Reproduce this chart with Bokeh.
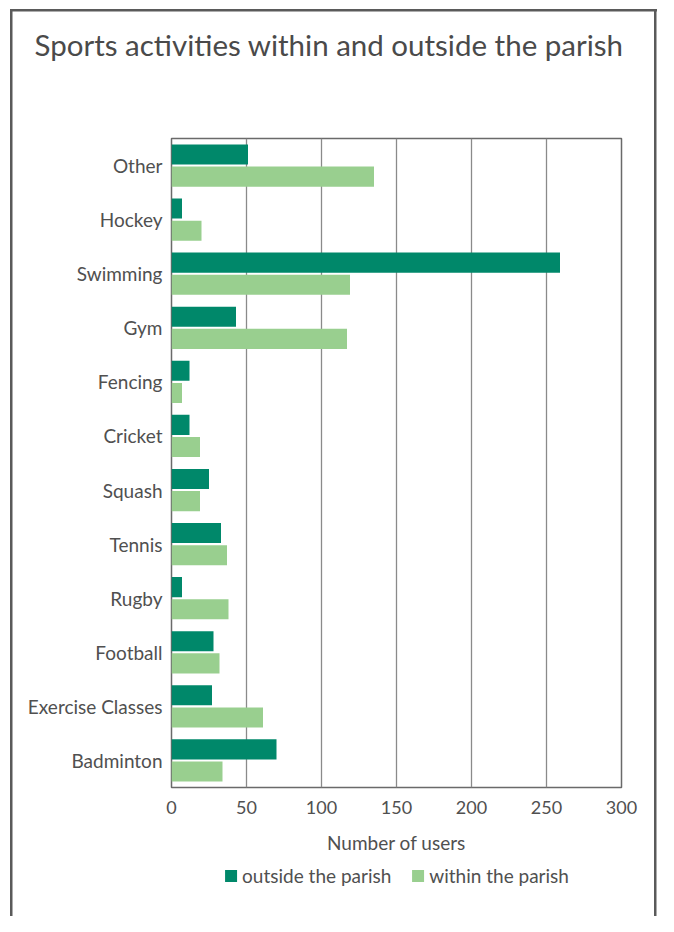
from bokeh.plotting import figure
from bokeh.layouts import column
from bokeh.models import (FactorRange, ColumnDataSource, Legend, LegendItem, Title,
                          FixedTicker, Range1d)
from bokeh.transform import dodge
from bokeh.embed import file_html
from bokeh.resources import INLINE

categories = ["Badminton", "Exercise Classes", "Football", "Rugby", "Tennis", "Squash",
              "Cricket", "Fencing", "Gym", "Swimming", "Hockey", "Other"]
outside_parish = [70, 27, 28, 7, 33, 25, 12, 12, 43, 259, 7, 51]
within_parish = [34, 61, 32, 38, 37, 19, 19, 7, 117, 119, 20, 135]
x_ticks = [0, 50, 100, 150, 200, 250, 300]
series_names = ["outside the parish", "within the parish"]

DARK = "#00886a"
LIGHT = "#99cf8f"
TEXT = "#505050"
FONT = "Lato"
BORDER = "#5a5a5a"

src = ColumnDataSource(dict(cat=categories, outside=outside_parish, within=within_parish))

p = figure(width=658, height=862, output_backend="svg", toolbar_location=None,
           y_range=FactorRange(factors=categories, range_padding=0),
           x_range=Range1d(0, 300),
           min_border_left=171, min_border_right=37, min_border_top=0, min_border_bottom=75)

r1 = p.hbar(y=dodge("cat", 0.205, range=p.y_range), right="outside", left=0, height=0.37,
            source=src, fill_color=DARK, line_color=None)
r2 = p.hbar(y=dodge("cat", -0.205, range=p.y_range), right="within", left=0, height=0.37,
            source=src, fill_color=LIGHT, line_color=None)

p.border_fill_color = None
p.outline_line_color = "#6a6a6a"
p.outline_line_width = 1.5
p.ygrid.grid_line_color = None
p.xgrid.grid_line_color = "#8a8a8a"
p.xgrid.grid_line_width = 1.3
p.xaxis.ticker = FixedTicker(ticks=x_ticks)

for ax in (p.xaxis[0], p.yaxis[0]):
    ax.axis_line_color = None
    ax.major_tick_line_color = None
    ax.minor_tick_line_color = None
    ax.major_tick_out = 0
    ax.minor_tick_out = 0
    ax.major_label_text_font = FONT
    ax.major_label_text_font_size = "19px"
    ax.major_label_text_color = TEXT
    ax.axis_label_text_font = FONT
    ax.axis_label_text_font_size = "19px"
    ax.axis_label_text_color = TEXT
    ax.axis_label_text_font_style = "normal"

p.xaxis.major_label_text_font_size = "18px"
p.yaxis.major_label_standoff = 9
p.xaxis.major_label_standoff = 13
p.xaxis.axis_label = "Number of users"
p.xaxis.axis_label_standoff = 14

# spacer between title and plot frame (inner part of the top panel)
spacer = Title(text=" ", text_font_size="1px", standoff=46)
p.add_layout(spacer, "above")

p.title.text = "Sports activities within and outside the parish"
p.title.text_font = FONT
p.title.text_font_size = "29.5px"
p.title.text_font_style = "normal"
p.title.text_color = "#4a4a4a"
p.title.align = "left"
p.title.offset = -137
p.title.vertical_align = "top"
p.title.standoff = 52

# legend strip below the chart; its bars use the same data but have zero height
p2 = figure(width=658, height=54, output_backend="svg", toolbar_location=None,
            x_axis_type=None, y_axis_type=None,
            y_range=FactorRange(factors=categories), x_range=Range1d(-20, -10),
            min_border_left=171, min_border_right=37, min_border_top=0, min_border_bottom=0)
p2.outline_line_color = None
p2.background_fill_color = None
p2.border_fill_color = None
l1 = p2.hbar(y="cat", right="outside", left=0, height=0, source=src,
             fill_color=DARK, line_color=None)
l2 = p2.hbar(y="cat", right="within", left=0, height=0, source=src,
             fill_color=LIGHT, line_color=None)

legend = Legend(items=[LegendItem(label=series_names[0], renderers=[l1]),
                       LegendItem(label=series_names[1], renderers=[l2])],
                orientation="horizontal", location="top_center")
legend.border_line_color = None
legend.background_fill_alpha = 0
legend.padding = 0
legend.margin = 2
legend.spacing = 19
legend.label_standoff = 4
legend.glyph_width = 15
legend.glyph_height = 15
legend.label_height = 15
legend.label_text_font = FONT
legend.label_text_font_size = "19px"
legend.label_text_color = TEXT
p2.add_layout(legend, "center")

# outer frame (left, top, right) drawn as CSS background lines behind the transparent canvases
line = f"linear-gradient({BORDER},{BORDER})"
layout = column(p, p2, spacing=0, styles={
    "background-color": "white",
    "background-image": f"{line}, {line}, {line}",
    "background-position": "9.5px 9px, 654px 9px, 9.5px 9px",
    "background-size": "2.5px 100%, 2.5px 100%, 647px 2.5px",
    "background-repeat": "no-repeat",
})

open("out.html", "w").write(file_html(layout, INLINE))
